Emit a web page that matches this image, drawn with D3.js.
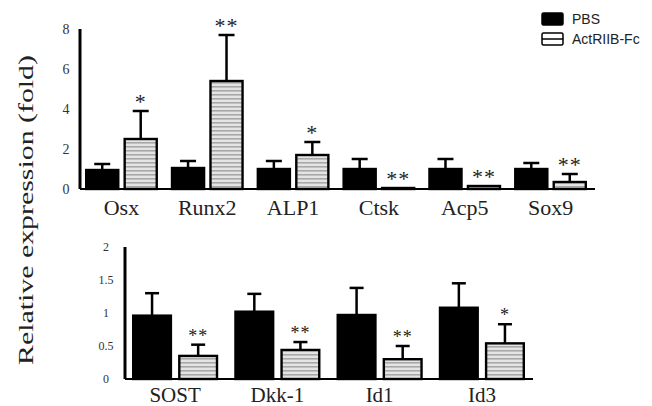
<!DOCTYPE html>
<html>
<head>
<meta charset="utf-8">
<script src="https://cdn.jsdelivr.net/npm/d3@7"></script>
<style>
  body { margin: 0; background: #fff; }
  svg { display: block; }
  .tick text { font-family: "Liberation Serif", "Times New Roman", serif; fill: #333; }
  .cat text { font-family: "Liberation Serif", "Times New Roman", serif; fill: #222; }
</style>
</head>
<body>
<svg width="652" height="406"></svg>
<script>
// top panel: bone / cartilage markers
var topGenes = ["Osx", "Runx2", "ALP1", "Ctsk", "Acp5", "Sox9"];
var topPBS = [0.95, 1.05, 1.0, 1.0, 1.0, 1.0];
var topPBSErr = [0.3, 0.35, 0.4, 0.5, 0.5, 0.3];
var topAct = [2.5, 5.4, 1.7, 0.05, 0.15, 0.35];
var topActErr = [1.4, 2.3, 0.65, 0, 0, 0.4];
var topStars = ["*", "**", "*", "**", "**", "**"];
var topTicks = [0, 2, 4, 6, 8];

// bottom panel: Wnt / BMP targets
var botGenes = ["SOST", "Dkk-1", "Id1", "Id3"];
var botPBS = [0.96, 1.02, 0.97, 1.08];
var botPBSErr = [0.34, 0.27, 0.41, 0.37];
var botAct = [0.35, 0.44, 0.3, 0.54];
var botActErr = [0.17, 0.12, 0.2, 0.29];
var botStars = ["**", "**", "**", "*"];
var botTicks = [0, 0.5, 1, 1.5, 2];

var groups = ["PBS", "ActRIIB-Fc"];

var svg = d3.select("svg");

// stripe fill for the treated bars
var defs = svg.append("defs");
var pat = defs.append("pattern")
    .attr("id", "stripes")
    .attr("patternUnits", "userSpaceOnUse")
    .attr("width", 6).attr("height", 4);
pat.append("rect").attr("width", 6).attr("height", 4).attr("fill", "#e4e4e4");
pat.append("rect").attr("y", 2).attr("width", 6).attr("height", 1.6).attr("fill", "#a8a8a8");

function panel(opt) {
    var rows = opt.genes.map(function(g, i) {
        return [
            { gene: g, key: "PBS", v: opt.pbs[i], e: opt.pbsErr[i], star: "" },
            { gene: g, key: "ActRIIB-Fc", v: opt.act[i], e: opt.actErr[i], star: opt.stars[i] }
        ];
    });

    var x = d3.scaleBand()
        .domain(opt.genes)
        .range(opt.xRange)
        .paddingInner(opt.padOuter)
        .paddingOuter(0);

    var x1 = d3.scaleBand()
        .domain(groups)
        .range([0, x.bandwidth()])
        .paddingInner(opt.padInner);

    var y = d3.scaleLinear()
        .domain(opt.yDomain)
        .range(opt.yRange);

    var g = svg.append("g");

    // baseline
    g.append("line")
        .attr("x1", opt.axisX).attr("x2", opt.xRange[1] + opt.baseExtra)
        .attr("y1", y(0)).attr("y2", y(0))
        .attr("stroke", "#000").attr("stroke-width", 2);

    var cell = g.selectAll(".grp")
        .data(rows)
        .enter().append("g")
        .attr("class", "grp")
        .attr("transform", function(d) { return "translate(" + x(d[0].gene) + ",0)"; });

    var bar = cell.selectAll(".b")
        .data(function(d) { return d; })
        .enter().append("g")
        .attr("class", "b");

    // error bars first, so the bar covers the lower half
    bar.filter(function(d) { return d.e > 0; })
        .append("line")
        .attr("x1", function(d) { return x1(d.key) + x1.bandwidth() / 2; })
        .attr("x2", function(d) { return x1(d.key) + x1.bandwidth() / 2; })
        .attr("y1", function(d) { return y(d.v); })
        .attr("y2", function(d) { return y(d.v + d.e); })
        .attr("stroke", "#000").attr("stroke-width", 2.5);

    bar.filter(function(d) { return d.e > 0; })
        .append("line")
        .attr("x1", function(d) { return x1(d.key) + x1.bandwidth() / 2 - opt.cap; })
        .attr("x2", function(d) { return x1(d.key) + x1.bandwidth() / 2 + opt.cap; })
        .attr("y1", function(d) { return y(d.v + d.e); })
        .attr("y2", function(d) { return y(d.v + d.e); })
        .attr("stroke", "#000").attr("stroke-width", 2.5);

    bar.append("rect")
        .attr("x", function(d) { return x1(d.key) + 1.2; })
        .attr("y", function(d) { return y(d.v); })
        .attr("width", x1.bandwidth() - 2.4)
        .attr("height", function(d) { return Math.max(0, y(0) - y(d.v)); })
        .attr("fill", function(d) { return d.key == "PBS" ? "#000" : "url(#stripes)"; })
        .attr("stroke", "#000")
        .attr("stroke-width", 2.4);

    bar.filter(function(d) { return d.star; })
        .append("text")
        .attr("x", function(d) { return x1(d.key) + x1.bandwidth() / 2; })
        .attr("y", function(d) { return y(d.v + d.e) - opt.starShift; })
        .attr("dy", "0.9em")
        .attr("text-anchor", "middle")
        .attr("font-family", "Liberation Serif, serif")
        .attr("font-size", opt.starSize)
        .attr("letter-spacing", 1)
        .attr("fill", "#222")
        .text(function(d) { return d.star; });

    // gene labels
    g.append("g")
        .attr("class", "cat")
        .selectAll("text")
        .data(opt.genes)
        .enter().append("text")
        .attr("x", function(d) { return x(d) + x.bandwidth() / 2; })
        .attr("y", opt.labelY)
        .attr("text-anchor", "middle")
        .attr("font-size", opt.labelSize)
        .text(function(d) { return d; });

    // y axis
    var ax = g.append("g")
        .attr("transform", "translate(" + opt.axisX + ",0)")
        .call(d3.axisLeft(y).tickValues(opt.ticks).tickFormat(d3.format("~g"))
            .tickSize(0).tickPadding(opt.tickPad));
    ax.select(".domain")
        .attr("stroke", "#000").attr("stroke-width", 3)
        .attr("d", "M0," + y(opt.yDomain[1]) + "V" + y(0));
    ax.selectAll(".tick text")
        .attr("font-size", opt.tickSize)
        .attr("text-anchor", "middle");
}

panel({
    genes: topGenes, pbs: topPBS, pbsErr: topPBSErr, act: topAct, actErr: topActErr,
    stars: topStars, ticks: topTicks,
    xRange: [85, 587], padOuter: 0.15, padInner: 0.104, baseExtra: 8,
    yDomain: [0, 8], yRange: [189, 29], axisX: 80,
    cap: 8, starShift: 22, starSize: 22,
    labelY: 215, labelSize: 22, tickPad: 14, tickSize: 14
});

panel({
    genes: botGenes, pbs: botPBS, pbsErr: botPBSErr, act: botAct, actErr: botActErr,
    stars: botStars, ticks: botTicks,
    xRange: [132, 525], padOuter: 0.157, padInner: 0.13, baseExtra: 8,
    yDomain: [0, 2], yRange: [379, 247], axisX: 125,
    cap: 7, starShift: 19, starSize: 18,
    labelY: 402, labelSize: 21, tickPad: 19, tickSize: 12
});

// y title
svg.append("text")
    .attr("transform", "translate(33,210) rotate(-90)")
    .attr("text-anchor", "middle")
    .attr("font-family", "Liberation Serif, serif")
    .attr("font-size", 22)
    .attr("fill", "#222")
    .attr("textLength", 310)
    .attr("lengthAdjust", "spacingAndGlyphs")
    .text("Relative expression (fold)");

// legend
var leg = svg.append("g").attr("transform", "translate(542,13)");
var li = leg.selectAll("g")
    .data(groups)
    .enter().append("g")
    .attr("transform", function(d, i) { return "translate(0," + (i * 20) + ")"; });
li.append("rect")
    .attr("width", 21).attr("height", 12).attr("rx", 1.5)
    .attr("fill", function(d, i) { return i == 0 ? "#000" : "#fff"; })
    .attr("stroke", "#000").attr("stroke-width", 1.5);
li.filter(function(d, i) { return i == 1; })
    .append("line")
    .attr("x1", 0).attr("x2", 21).attr("y1", 6).attr("y2", 6)
    .attr("stroke", "#000").attr("stroke-width", 1.5);
li.append("text")
    .attr("x", 30).attr("y", 11)
    .attr("font-family", "Liberation Sans, Arial, sans-serif")
    .attr("font-size", 14)
    .attr("fill", "#222")
    .text(function(d) { return d; });
</script>
</body>
</html>
